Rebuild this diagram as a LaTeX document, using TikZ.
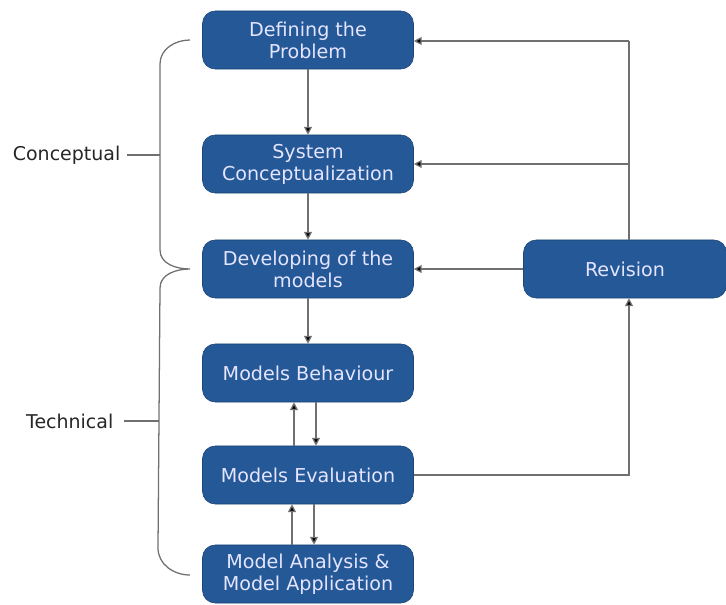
\documentclass[tikz,border=0pt]{standalone}
\usepackage{fontspec}
\setmainfont{DejaVu Sans}
\usetikzlibrary{arrows.meta, positioning, calc}
\definecolor{boxblue}{RGB}{36,88,150}
\definecolor{linegray}{RGB}{112,112,112}

\begin{document}
\begin{tikzpicture}[
    x=0.025cm, y=-0.025cm,
    step box/.style={
        rectangle, rounded corners=9pt, draw=boxblue!80!black, fill=boxblue,
        minimum width=5.275cm, minimum height=1.45cm,
        align=center, font=\fontsize{13.6}{15.5}\selectfont, text=white!90!blue
    },
    rev box/.style={step box, minimum width=5.075cm},
    side/.style={font=\fontsize{13.5}{15}\selectfont, text=black!85, inner sep=1pt},
    conn/.style={draw=linegray, line width=0.9pt},
    arr/.style={conn, -{Triangle[length=5.5pt, width=5.5pt, fill=black]}}
]
\useasboundingbox (0,0) rectangle (726,605);

\node[step box] (problem)  at (308, 40)  {Defining the\\Problem};
\node[step box] (concept)  at (308, 164) {System\\Conceptualization};
\node[step box] (develop)  at (308, 269) {Developing of the\\models};
\node[step box] (behav)    at (308, 373) {Models Behaviour};
\node[step box] (eval)     at (308, 475) {Models Evaluation};
\node[step box] (analysis) at (308, 574) {Model Analysis \&\\Model Application};
\node[rev box]  (revision) at (625, 269) {Revision};

\node[side, anchor=east] (conceptual) at (122, 155) {Conceptual};
\node[side, anchor=east] (technical)  at (115, 421) {Technical};

\coordinate (topturn) at (629, 41);
\coordinate (midturn) at (629, 164);
\coordinate (evalturn) at (629, 475);

% main column
\draw[arr] (problem) -- (concept);
\draw[arr] (concept) -- (develop);
\draw[arr] (develop) -- (behav);
\draw[arr] ([xshift=-14*0.025cm]eval.north) -- ([xshift=-14*0.025cm]behav.south);
\draw[arr] ([xshift=8*0.025cm]behav.south) -- ([xshift=8*0.025cm]eval.north);
\draw[arr] ([xshift=-16*0.025cm]analysis.north) -- ([xshift=-16*0.025cm]eval.south);
\draw[arr] ([xshift=6*0.025cm]eval.south) -- ([xshift=6*0.025cm]analysis.north);

% revision loop
\draw[conn] (revision.north -| topturn) -- (topturn);
\draw[arr] (topturn) -- (problem.east |- topturn);
\draw[arr] (midturn) -- (concept.east);
\draw[arr] (revision.west) -- (develop.east);
\draw[arr] (eval.east) -- (evalturn) -- (revision.south -| evalturn);

% braces
\draw[conn] (190, 40) to[out=180, in=90] (160, 64) -- (160, 250)
    to[out=-90, in=180] (190, 269) to[out=180, in=90] (160, 288) -- (158, 548)
    to[out=-90, in=180] (190, 575);
\draw[conn] (conceptual.east) ++(5,0) -- (160, 155);
\draw[conn] (technical.east) ++(9,0) -- (159, 421);

\end{tikzpicture}
\end{document}
